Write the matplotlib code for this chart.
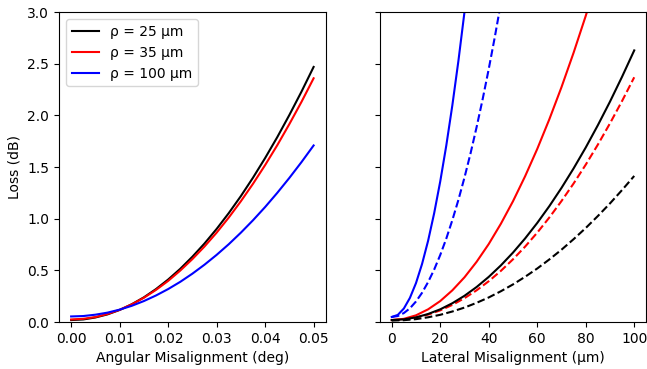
import matplotlib.pyplot as plt

# angular misalignment (deg) vs loss (dB)
ang_x = [0.0, 0.0025, 0.005, 0.0075, 0.01, 0.0125, 0.015, 0.0175, 0.02, 0.0225, 0.025,
         0.0275, 0.03, 0.0325, 0.035, 0.0375, 0.04, 0.0425, 0.045, 0.0475, 0.05]
ang_25 = [0.02, 0.026, 0.045, 0.075, 0.118, 0.173, 0.24, 0.32, 0.412, 0.516, 0.633,
          0.761, 0.902, 1.055, 1.22, 1.398, 1.588, 1.79, 2.005, 2.231, 2.47]
ang_35 = [0.026, 0.032, 0.049, 0.079, 0.119, 0.172, 0.236, 0.312, 0.399, 0.499, 0.61,
          0.732, 0.866, 1.012, 1.17, 1.339, 1.52, 1.712, 1.917, 2.132, 2.36]
ang_100 = [0.055, 0.059, 0.072, 0.092, 0.121, 0.158, 0.204, 0.258, 0.32, 0.39, 0.469,
           0.556, 0.651, 0.754, 0.866, 0.986, 1.114, 1.251, 1.396, 1.549, 1.71]

# lateral misalignment (um) vs loss (dB)
lat_x = [0, 5, 10, 15, 20, 25, 30, 35, 40, 45, 50, 55, 60, 65, 70, 75, 80, 85, 90, 95, 100]
lat_25 = [0.02, 0.027, 0.046, 0.079, 0.124, 0.183, 0.255, 0.34, 0.438, 0.549, 0.673,
          0.81, 0.96, 1.123, 1.299, 1.488, 1.69, 1.906, 2.134, 2.376, 2.63]
lat_25_d = [0.015, 0.019, 0.029, 0.047, 0.071, 0.103, 0.141, 0.187, 0.239, 0.299, 0.365,
            0.439, 0.519, 0.607, 0.701, 0.803, 0.911, 1.027, 1.149, 1.279, 1.415]
lat_35_d = [0.02, 0.026, 0.044, 0.073, 0.114, 0.167, 0.232, 0.308, 0.396, 0.496, 0.608,
            0.731, 0.866, 1.013, 1.172, 1.342, 1.524, 1.718, 1.924, 2.141, 2.37]
lat_x_35 = [0, 5, 10, 15, 20, 25, 30, 35, 40, 45, 50, 55, 60, 65, 70, 75, 80, 85]
lat_35 = [0.02, 0.032, 0.066, 0.124, 0.204, 0.308, 0.434, 0.584, 0.756, 0.952, 1.17,
          1.412, 1.676, 1.964, 2.274, 2.608, 2.964, 3.344]
lat_x_100 = [0, 2.5, 5, 7.5, 10, 12.5, 15, 17.5, 20, 22.5, 25, 27.5, 30, 32.5]
lat_100 = [0.05, 0.07, 0.132, 0.235, 0.378, 0.563, 0.788, 1.055, 1.362, 1.71, 2.1,
           2.53, 3.002, 3.515]
lat_x_100_d = [0, 2.5, 5, 7.5, 10, 12.5, 15, 17.5, 20, 22.5, 25, 27.5, 30, 32.5, 35,
               37.5, 40, 42.5, 45]
lat_100_d = [0.05, 0.059, 0.088, 0.134, 0.2, 0.284, 0.388, 0.509, 0.65, 0.809, 0.988,
             1.184, 1.4, 1.634, 1.888, 2.159, 2.45, 2.759, 3.088]

labels = ['ρ = 25 μm', 'ρ = 35 μm', 'ρ = 100 μm']

fig, (ax1, ax2) = plt.subplots(1, 2, sharey=True, figsize=(6.47, 3.69), dpi=100)
fig.subplots_adjust(left=0.0912, right=0.999, bottom=0.127, top=0.967, wspace=0.202)

ax1.plot(ang_x, ang_25, color='black', label=labels[0])
ax1.plot(ang_x, ang_35, color='red', label=labels[1])
ax1.plot(ang_x, ang_100, color='blue', label=labels[2])
ax1.set_xlabel('Angular Misalignment (deg)')
ax1.set_ylabel('Loss (dB)')
ax1.set_xticks([0.0, 0.01, 0.02, 0.03, 0.04, 0.05])
ax1.set_xticklabels(['0.00', '0.01', '0.02', '0.03', '0.04', '0.05'])
ax1.legend(loc='upper left')

ax2.plot(lat_x_100, lat_100, color='blue')
ax2.plot(lat_x_100_d, lat_100_d, color='blue', ls='--')
ax2.plot(lat_x_35, lat_35, color='red')
ax2.plot(lat_x, lat_35_d, color='red', ls='--')
ax2.plot(lat_x, lat_25, color='black')
ax2.plot(lat_x, lat_25_d, color='black', ls='--')
ax2.set_xlabel('Lateral Misalignment (μm)')
ax2.set_xlim(-5, 105)

ax1.set_ylim(0, 3.0)

plt.savefig('out.png', format='png')
plt.close()
